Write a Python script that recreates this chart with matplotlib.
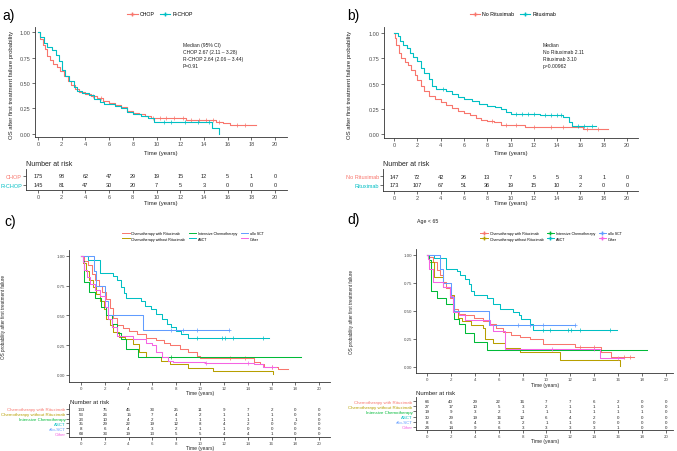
import numpy as np
import matplotlib
matplotlib.use('Agg')
import matplotlib.pyplot as plt
from matplotlib.lines import Line2D

# === Colours (ggplot hue palette) ===
RED, OLIVE, GREEN, CYAN, BLUE, PINK = '#F8766D', '#B79F00', '#00BA38', '#00BFC4', '#619CFF', '#F564E3'

# === Time grid of the risk tables ===
risk_times = [0, 2, 4, 6, 8, 10, 12, 14, 16, 18, 20]

# === Panel a: CHOP vs R-CHOP ===
a_chop_t = [0, 0.2, 0.4, 0.6, 0.8, 1.0, 1.3, 1.6, 1.9, 2.2, 2.5, 2.8, 3.1, 3.5, 4.0, 4.5, 5.0, 5.5, 6.0, 6.5, 7.0, 7.5, 8.0, 8.5, 9.0, 9.5, 10.5, 12.5, 14.5, 15.0, 15.6, 16.2, 18.4]
a_chop_s = [1.0, 0.93, 0.87, 0.83, 0.77, 0.73, 0.69, 0.66, 0.62, 0.57, 0.52, 0.48, 0.44, 0.41, 0.39, 0.37, 0.35, 0.32, 0.30, 0.28, 0.26, 0.23, 0.21, 0.20, 0.18, 0.16, 0.155, 0.14, 0.135, 0.12, 0.11, 0.09, 0.09]
a_chop_cens = [4.6, 5.3, 9.7, 10.3, 10.8, 11.5, 12.2, 12.9, 13.6, 14.2, 14.8, 15.3, 16.8, 17.5]
a_rchop_t = [0, 0.2, 0.5, 0.8, 1.2, 1.5, 1.8, 2.0, 2.3, 2.6, 3.0, 3.3, 3.7, 4.3, 4.7, 5.2, 5.6, 6.5, 7.0, 7.5, 8.0, 8.7, 9.3, 9.8, 14.7, 15.3, 15.3]
a_rchop_s = [1.0, 0.95, 0.89, 0.85, 0.82, 0.78, 0.72, 0.63, 0.57, 0.52, 0.46, 0.42, 0.40, 0.38, 0.34, 0.31, 0.29, 0.27, 0.25, 0.22, 0.20, 0.18, 0.16, 0.12, 0.06, 0.0, 0.0]
a_rchop_cens = [10.6, 11.2, 12.4, 13.5, 14.4]
a_risk_chop = [175, 98, 62, 47, 29, 19, 15, 12, 5, 1, 0]
a_risk_rchop = [145, 81, 47, 30, 20, 7, 5, 3, 0, 0, 0]

# === Panel b: No Rituximab vs Rituximab ===
b_nor_t = [0, 0.1, 0.2, 0.4, 0.6, 0.9, 1.2, 1.5, 1.8, 2.0, 2.3, 2.6, 3.0, 3.5, 4.0, 4.5, 5.0, 5.5, 6.0, 6.5, 7.0, 7.5, 8.0, 8.6, 9.2, 11.2, 16.2, 18.4]
b_nor_s = [1, 0.95, 0.88, 0.80, 0.75, 0.71, 0.68, 0.63, 0.58, 0.53, 0.48, 0.43, 0.38, 0.35, 0.32, 0.29, 0.26, 0.23, 0.21, 0.19, 0.16, 0.14, 0.13, 0.12, 0.09, 0.07, 0.05, 0.05]
b_nor_cens = [8.4, 9.6, 10.5, 12.0, 13.5, 14.5, 16.6, 17.5]
b_r_t = [0, 0.3, 0.5, 0.8, 1.1, 1.4, 1.6, 2.0, 2.3, 2.6, 3.0, 3.3, 3.6, 4.5, 5.0, 5.5, 6.0, 6.7, 7.3, 8.0, 8.7, 9.2, 9.6, 10.0, 12.5, 14.5, 15.0, 15.3, 17.3]
b_r_s = [1, 0.97, 0.92, 0.88, 0.85, 0.80, 0.76, 0.72, 0.65, 0.60, 0.54, 0.48, 0.45, 0.43, 0.40, 0.37, 0.35, 0.33, 0.30, 0.28, 0.27, 0.25, 0.22, 0.20, 0.19, 0.17, 0.12, 0.08, 0.08]
b_r_cens = [4.2, 10.5, 11.0, 11.5, 12.0, 13.0, 13.5, 14.0, 14.3, 15.8, 16.3, 17.0]
b_risk_nor = [147, 72, 42, 26, 13, 7, 5, 5, 3, 1, 0]
b_risk_r = [173, 107, 67, 51, 36, 19, 15, 10, 2, 0, 0]

# === Panel c: treatment groups, all ages ===
group_names = ['Chemotherapy with Rituximab', 'Chemotherapy without Rituximab', 'Intensive Chemotherapy', 'ASCT', 'allo-SCT', 'Other']
legend_names = ['Chemotherapy with Rituximab', 'Chemotherapy without Rituximab', 'Intensive Chemotherapy', 'ASCT', 'allo SCT', 'Other']
group_colors = [RED, OLIVE, GREEN, CYAN, BLUE, PINK]

c_withr_t = [0, 0.3, 0.6, 0.9, 1.2, 1.5, 1.8, 2.1, 2.4, 2.7, 3.0, 3.5, 4.0, 4.7, 5.5, 6.3, 7.0, 7.5, 8.3, 9.0, 9.7, 10.0, 14.5, 15.0, 15.4, 16.5, 17.4]
c_withr_s = [1, 0.96, 0.92, 0.85, 0.80, 0.75, 0.70, 0.64, 0.56, 0.48, 0.42, 0.39, 0.37, 0.34, 0.31, 0.29, 0.27, 0.25, 0.22, 0.19, 0.16, 0.14, 0.11, 0.09, 0.07, 0.05, 0.05]
c_withr_cens = [12.5, 13.8, 16.0]
c_without_t = [0, 0.2, 0.4, 0.7, 1.0, 1.3, 1.6, 1.9, 2.1, 2.4, 2.7, 3.2, 3.7, 4.4, 4.9, 5.5, 6.7, 7.5, 9.0, 11.1, 16.1, 16.1]
c_without_s = [1, 0.94, 0.87, 0.80, 0.74, 0.68, 0.62, 0.55, 0.47, 0.42, 0.36, 0.32, 0.30, 0.26, 0.19, 0.15, 0.12, 0.09, 0.06, 0.03, 0.01, 0.01]
c_intens_t = [0, 0.15, 0.3, 0.7, 1.2, 1.7, 2.1, 2.6, 3.0, 3.4, 3.8, 4.8, 18.5]
c_intens_s = [1, 0.96, 0.78, 0.70, 0.65, 0.57, 0.50, 0.43, 0.35, 0.30, 0.22, 0.15, 0.15]
c_intens_cens = [7.6]
c_asct_t = [0, 0.6, 1.6, 2.7, 3.0, 3.4, 3.6, 3.8, 5.0, 5.4, 5.9, 6.3, 6.8, 7.2, 7.6, 8.0, 8.4, 9.0, 15.8]
c_asct_s = [1, 0.97, 0.86, 0.83, 0.80, 0.74, 0.69, 0.65, 0.62, 0.58, 0.55, 0.51, 0.47, 0.43, 0.40, 0.37, 0.34, 0.31, 0.31]
c_asct_cens = [9.7, 11.8, 12.1, 12.8, 15.3]
c_allo_t = [0, 1.1, 1.3, 2.0, 2.3, 5.2, 12.4]
c_allo_s = [1, 0.875, 0.75, 0.625, 0.5, 0.375, 0.375]
c_allo_cens = [7.6, 8.6, 9.7, 12.4]
c_other_t = [0, 0.15, 0.3, 0.5, 0.8, 1.2, 1.6, 2.0, 2.3, 2.6, 3.0, 4.4, 5.5, 6.0, 6.3, 6.8, 7.3, 7.7, 10.4, 14.5, 15.3, 16.4]
c_other_s = [1, 0.95, 0.88, 0.82, 0.76, 0.71, 0.66, 0.57, 0.47, 0.40, 0.33, 0.30, 0.27, 0.25, 0.19, 0.15, 0.12, 0.11, 0.10, 0.09, 0.065, 0.065]
c_other_cens = [10.5, 14.0, 16.0]
c_risk = [
    [133, 75, 45, 33, 25, 11, 9, 7, 2, 0, 0],
    [53, 26, 15, 7, 4, 2, 1, 1, 1, 0, 0],
    [23, 10, 4, 2, 1, 1, 1, 1, 1, 1, 0],
    [35, 29, 22, 19, 12, 8, 4, 2, 0, 0, 0],
    [8, 6, 4, 3, 2, 1, 1, 0, 0, 0, 0],
    [68, 33, 19, 13, 5, 5, 4, 4, 1, 0, 0],
]

# === Panel d: treatment groups, age < 65 ===
d_withr_t = [0, 0.2, 0.5, 0.8, 1.1, 1.3, 1.6, 1.9, 2.2, 2.6, 3.2, 3.9, 4.7, 5.3, 5.8, 6.4, 7.0, 7.8, 8.6, 9.7, 12.4, 14.6, 15.4, 17.3]
d_withr_s = [1, 0.98, 0.93, 0.86, 0.82, 0.76, 0.70, 0.61, 0.52, 0.47, 0.46, 0.44, 0.41, 0.38, 0.35, 0.31, 0.28, 0.27, 0.25, 0.20, 0.18, 0.13, 0.09, 0.09]
d_withr_cens = [12.8, 14.0, 16.5, 17.0]
d_without_t = [0, 0.1, 0.2, 0.6, 1.3, 1.9, 2.3, 2.6, 2.9, 3.7, 4.7, 4.85, 5.5, 6.5, 7.8, 11.1, 16.2, 16.2]
d_without_s = [1, 0.97, 0.93, 0.80, 0.71, 0.64, 0.50, 0.44, 0.41, 0.37, 0.35, 0.25, 0.21, 0.17, 0.13, 0.06, 0.01, 0.01]
d_intens_t = [0, 0.17, 0.35, 0.8, 1.6, 2.3, 2.7, 3.2, 3.9, 5.0, 18.4]
d_intens_s = [1, 0.95, 0.68, 0.61, 0.56, 0.43, 0.38, 0.30, 0.22, 0.15, 0.15]
d_asct_t = [0, 0.6, 1.6, 2.5, 2.8, 3.2, 3.5, 3.7, 3.9, 5.0, 5.5, 6.1, 7.2, 7.7, 7.9, 8.6, 8.9, 15.9]
d_asct_s = [1, 0.97, 0.87, 0.85, 0.82, 0.78, 0.74, 0.68, 0.64, 0.61, 0.56, 0.52, 0.49, 0.46, 0.43, 0.38, 0.33, 0.33]
d_asct_cens = [9.7, 10.3, 11.8, 12.1, 12.8, 15.3]
d_allo_t = [0, 1.1, 1.3, 2.0, 2.3, 5.2, 12.4]
d_allo_s = [1, 0.875, 0.75, 0.625, 0.5, 0.375, 0.375]
d_allo_cens = [7.6, 8.6, 9.7, 12.4]
d_other_t = [0, 0.1, 0.2, 0.5, 1.3, 1.9, 2.2, 2.7, 3.2, 5.3, 5.5, 6.5, 14.5, 16.5]
d_other_s = [1, 0.96, 0.87, 0.76, 0.71, 0.63, 0.49, 0.46, 0.42, 0.37, 0.32, 0.16, 0.08, 0.08]
d_other_cens = [10.5, 14.0, 16.0]
d_risk = [
    [66, 40, 29, 22, 16, 7, 7, 6, 2, 0, 0],
    [27, 17, 10, 5, 3, 2, 1, 1, 1, 0, 0],
    [19, 9, 3, 2, 1, 1, 1, 1, 1, 1, 0],
    [30, 29, 19, 16, 12, 6, 4, 2, 0, 0, 0],
    [8, 6, 4, 3, 2, 1, 1, 0, 0, 0, 0],
    [24, 14, 9, 6, 3, 3, 3, 3, 1, 0, 0],
]

# === Figure helpers ===
W, H = 677, 452
fig = plt.figure(figsize=(W / 100, H / 100), dpi=100)
plt.rcParams['font.family'] = 'Liberation Sans'
TXT = '#222222'


def rect(l, t, r, b):
    return [l / W, 1 - b / H, (r - l) / W, (b - t) / H]


def style(ax, fs, pad=1.2):
    for side in ['top', 'right']:
        ax.spines[side].set_visible(False)
    for side in ['left', 'bottom']:
        ax.spines[side].set_linewidth(0.6)
        ax.spines[side].set_color('#333333')
    ax.tick_params(length=2, width=0.5, labelsize=fs, pad=pad, colors='#333333', labelcolor='#4d4d4d')
    ax.set_xticks(risk_times)


def km(ax, t, s, color, cens=None, lw=0.8, ms=3):
    ax.step(t, s, where='post', color=color, lw=lw)
    if cens:
        t_arr = np.array(t)
        ys = [s[np.searchsorted(t_arr, c, side='right') - 1] for c in cens]
        ax.plot(cens, ys, '+', color=color, ms=ms, mew=0.5)


def main_axes(pos, xlim, ylim, fs, pad=1.2):
    ax = fig.add_axes(rect(*pos))
    style(ax, fs, pad)
    ax.set_xlim(*xlim)
    ax.set_ylim(*ylim)
    ax.set_yticks([0, 0.25, 0.5, 0.75, 1.0])
    ax.set_yticklabels(['0.00', '0.25', '0.50', '0.75', '1.00'])
    return ax


def risk_table(pos, xlim, ylim, rows, names, colors, fs, pad=1.2):
    ax = fig.add_axes(rect(*pos))
    style(ax, fs, pad)
    ax.set_xlim(*xlim)
    ax.set_ylim(*ylim)
    n = len(rows)
    for i, row in enumerate(rows):
        for x, v in zip(risk_times, row):
            ax.text(x, n - 1 - i, str(v), ha='center', va='center', fontsize=fs, color=TXT)
    ax.set_yticks([n - 1 - i for i in range(n)])
    ax.set_yticklabels(names)
    for lab, c in zip(ax.get_yticklabels(), colors):
        lab.set_color(c)
    return ax


# === Panel a ===
fig.text(2 / W, 1 - 16 / H, 'a)', fontsize=10, va='center')
ax = main_axes((35, 28, 287, 138), (-0.25, 21.0), (-0.03, 1.05), 4)
km(ax, a_chop_t, a_chop_s, RED, a_chop_cens)
km(ax, a_rchop_t, a_rchop_s, CYAN, a_rchop_cens)
ax.text(183 / W, 1 - 43 / H, 'Median (95% CI)\nCHOP 2.67 (2.11 – 3.28)\nR-CHOP 2.64 (2.06 – 3.44)\nP=0.91',
        transform=fig.transFigure, fontsize=3.6, va='top', linespacing=1.5, color=TXT)
fig.text(12 / W, 1 - 85 / H, 'OS after first treatment failure probability', rotation=90, fontsize=4.3, ha='center', va='center', color=TXT)
fig.text(161 / W, 1 - 153 / H, 'Time (years)', fontsize=4.3, ha='center', va='center', color=TXT)
fig.legend(handles=[Line2D([], [], color=RED, marker='+', lw=0.8, ms=3), Line2D([], [], color=CYAN, marker='+', lw=0.8, ms=3)],
           labels=['CHOP', 'R-CHOP'], loc='center', bbox_to_anchor=(160 / W, 1 - 15 / H), ncol=2, frameon=False,
           fontsize=3.8, handlelength=2, columnspacing=1, handletextpad=0.4)
fig.text(26 / W, 1 - 164 / H, 'Number at risk', fontsize=5, va='center', color=TXT)
risk_table((26, 170, 287, 191), (-1.0, 21.0), (-0.56, 1.78), [a_risk_chop, a_risk_rchop], ['CHOP', 'R-CHOP'], [RED, CYAN], 4, 0.8)
fig.text(161 / W, 1 - 203.5 / H, 'Time (years)', fontsize=4.3, ha='center', va='center', color=TXT)

# === Panel b ===
fig.text(347 / W, 1 - 16 / H, 'b)', fontsize=10, va='center')
ax = main_axes((384, 28, 638, 139), (-0.86, 20.94), (-0.04, 1.06), 4)
km(ax, b_nor_t, b_nor_s, RED, b_nor_cens)
km(ax, b_r_t, b_r_s, CYAN, b_r_cens)
ax.text(543 / W, 1 - 43 / H, 'Median\nNo Rituximab 2.11\nRituximab 3.10\np=0.00962',
        transform=fig.transFigure, fontsize=3.6, va='top', linespacing=1.5, color=TXT)
fig.text(350 / W, 1 - 85 / H, 'OS after first treatment failure probability', rotation=90, fontsize=4.3, ha='center', va='center', color=TXT)
fig.text(511 / W, 1 - 153 / H, 'Time (years)', fontsize=4.3, ha='center', va='center', color=TXT)
fig.legend(handles=[Line2D([], [], color=RED, marker='+', lw=0.8, ms=3), Line2D([], [], color=CYAN, marker='+', lw=0.8, ms=3)],
           labels=['No Rituximab', 'Rituximab'], loc='center', bbox_to_anchor=(513 / W, 1 - 15 / H), ncol=2, frameon=False,
           fontsize=3.8, handlelength=2, columnspacing=1, handletextpad=0.4)
fig.text(383 / W, 1 - 165 / H, 'Number at risk', fontsize=5, va='center', color=TXT)
risk_table((383, 170, 638, 192), (-0.94, 20.94), (-0.67, 1.78), [b_risk_nor, b_risk_r], ['No Rituximab', 'Rituximab'], [RED, CYAN], 4, 0.8)
fig.text(511 / W, 1 - 204 / H, 'Time (years)', fontsize=4.3, ha='center', va='center', color=TXT)

# === Panel c ===
fig.text(4 / W, 1 - 222 / H, 'c)', fontsize=10, va='center')
ax = main_axes((69, 251, 330, 383), (-1.0, 20.9), (-0.06, 1.05), 3.2, 0.6)
c_curves = [(c_withr_t, c_withr_s, c_withr_cens), (c_without_t, c_without_s, None), (c_intens_t, c_intens_s, c_intens_cens),
            (c_asct_t, c_asct_s, c_asct_cens), (c_allo_t, c_allo_s, c_allo_cens), (c_other_t, c_other_s, c_other_cens)]
for (t, s, cens), col in zip(c_curves, group_colors):
    km(ax, t, s, col, cens, lw=0.75, ms=2.5)
fig.text(4 / W, 1 - 317 / H, 'OS probability after first treatment failure', rotation=90, fontsize=3.3, ha='center', va='center', color=TXT)
fig.text(200 / W, 1 - 393.5 / H, 'Time (years)', fontsize=3.6, ha='center', va='center', color=TXT)
fig.legend(handles=[Line2D([], [], color=c, lw=0.7) for c in group_colors], labels=legend_names,
           loc='center', bbox_to_anchor=(193 / W, 1 - 237 / H), ncol=3, frameon=False,
           fontsize=2.6, handlelength=2, columnspacing=1, handletextpad=0.5, labelspacing=0.4)
fig.text(70 / W, 1 - 402 / H, 'Number at risk', fontsize=4.3, va='center', color=TXT)
risk_table((69, 405, 330, 438), (-1.0, 20.9), (-0.83, 6.04), c_risk, group_names, group_colors, 3.2, 0.6)
fig.text(200 / W, 1 - 449 / H, 'Time (years)', fontsize=3.6, ha='center', va='center', color=TXT)

# === Panel d ===
fig.text(347 / W, 1 - 220 / H, 'd)', fontsize=10, va='center')
fig.text(417 / W, 1 - 222 / H, 'Age < 65', fontsize=3.8, va='center', color=TXT)
ax = main_axes((416, 250, 673, 374), (-0.92, 20.6), (-0.054, 1.05), 3.2, 0.6)
d_curves = [(d_withr_t, d_withr_s, d_withr_cens), (d_without_t, d_without_s, None), (d_intens_t, d_intens_s, None),
            (d_asct_t, d_asct_s, d_asct_cens), (d_allo_t, d_allo_s, d_allo_cens), (d_other_t, d_other_s, d_other_cens)]
for (t, s, cens), col in zip(d_curves, group_colors):
    km(ax, t, s, col, cens, lw=0.75, ms=2.5)
fig.text(351 / W, 1 - 312 / H, 'OS probability after first treatment failure', rotation=90, fontsize=3.3, ha='center', va='center', color=TXT)
fig.text(545 / W, 1 - 385 / H, 'Time (years)', fontsize=3.6, ha='center', va='center', color=TXT)
fig.legend(handles=[Line2D([], [], color=c, marker='+', lw=0.7, ms=2.5) for c in group_colors], labels=legend_names,
           loc='center', bbox_to_anchor=(551 / W, 1 - 237 / H), ncol=3, frameon=False,
           fontsize=2.6, handlelength=2, columnspacing=1, handletextpad=0.5, labelspacing=0.4)
fig.text(416 / W, 1 - 394 / H, 'Number at risk', fontsize=4.3, va='center', color=TXT)
risk_table((416, 398, 673, 431), (-0.92, 20.6), (-0.58, 5.77), d_risk, group_names, group_colors, 3.2, 0.6)
fig.text(545 / W, 1 - 442 / H, 'Time (years)', fontsize=3.6, ha='center', va='center', color=TXT)

fig.savefig('out.png', dpi=100)
